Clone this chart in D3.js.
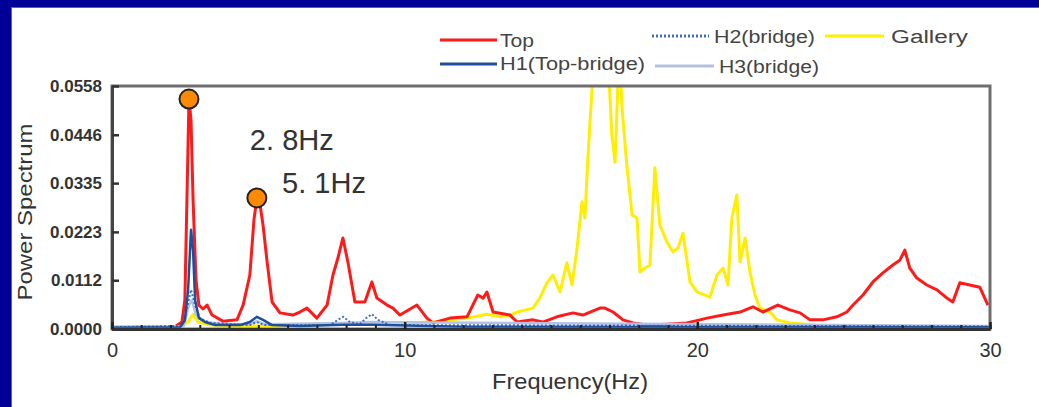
<!DOCTYPE html>
<html><head><meta charset="utf-8">
<script src="https://cdn.jsdelivr.net/npm/d3@7"></script>
<style>html,body{margin:0;padding:0;background:#fff;overflow:hidden}</style>
</head><body><svg id="c" width="1039" height="407"></svg>
<script>
// ---- data ----
const topFreq = [0,1.3,2.15,2.39,2.49,2.56,2.63,2.70,2.77,2.87,2.97,3.11,3.25,3.42,3.79,4.27,4.48,4.71,4.85,4.95,5.06,5.16,5.30,5.47,5.74,6.18,6.42,6.66,7.00,7.35,7.55,7.72,7.89,8.06,8.30,8.64,8.88,9.05,9.40,9.60,9.84,10.42,10.76,10.97,11.55,12.13,12.50,12.68,12.81,13.02,13.60,13.84,14.38,14.72,15.20,15.75,16.09,16.67,16.84,17.12,17.46,17.80,18.28,18.96,19.64,20.09,20.33,20.88,21.46,21.90,22.24,22.75,23.16,23.51,23.85,24.29,24.77,25.11,25.32,25.66,26.00,26.34,26.68,26.92,27.09,27.26,27.50,27.84,28.19,28.53,28.73,28.97,29.31,29.65,29.93];
const topVal = [0.0002,0.0002,0.0005,0.0016,0.0067,0.0296,0.0528,0.048,0.0296,0.0113,0.0055,0.0046,0.0055,0.0032,0.0018,0.0021,0.0055,0.0124,0.025,0.0301,0.0285,0.0239,0.0154,0.0062,0.0037,0.0032,0.0039,0.0048,0.0025,0.0055,0.0124,0.0163,0.0209,0.0154,0.0062,0.0062,0.0108,0.0071,0.0055,0.0048,0.0032,0.0055,0.0025,0.0014,0.0025,0.0028,0.0078,0.0071,0.0085,0.0039,0.0032,0.0016,0.0021,0.0016,0.0028,0.0037,0.0032,0.0048,0.0048,0.0039,0.0021,0.0014,0.0009,0.0011,0.0014,0.0021,0.0025,0.0032,0.0039,0.0051,0.0039,0.0055,0.0044,0.0037,0.0021,0.0021,0.0028,0.0039,0.0055,0.0078,0.0108,0.0129,0.0147,0.0158,0.0181,0.0140,0.0117,0.0101,0.0090,0.0071,0.0062,0.0106,0.0101,0.0096,0.0055];

const galFreq = [0,2.32,2.6,2.77,2.94,3.35,4.71,6.42,8.13,9.84,10.97,11.55,12.13,12.81,13.26,13.60,13.84,14.38,14.62,14.86,15.07,15.31,15.54,15.72,15.89,16.06,16.16,16.26,16.40,16.54,16.71,16.84,16.98,17.08,17.19,17.29,17.36,17.42,17.59,17.77,17.94,18.04,18.21,18.38,18.55,18.72,18.96,19.17,19.34,19.51,19.75,19.99,20.43,20.67,20.88,21.05,21.18,21.35,21.46,21.63,21.80,21.97,22.14,22.48,22.72,23.16,23.74,24.29,30];
const galVal = [0.0005,0.0005,0.0016,0.0034,0.0016,0.0009,0.0007,0.0009,0.0011,0.0014,0.0016,0.0021,0.0025,0.0034,0.0028,0.0032,0.0039,0.0048,0.0071,0.0106,0.0124,0.0085,0.0152,0.0101,0.0186,0.0292,0.0255,0.0393,0.0549,0.066,0.064,0.0595,0.058,0.0445,0.0383,0.057,0.062,0.0514,0.0377,0.0262,0.0255,0.0131,0.0140,0.0147,0.037,0.0239,0.020,0.0177,0.0186,0.022,0.0108,0.0085,0.0073,0.0124,0.0140,0.0101,0.0255,0.0308,0.0154,0.0209,0.0131,0.0078,0.0048,0.0039,0.0021,0.0014,0.0011,0.0007,0.0005];

const h1Freq = [0,2.32,2.49,2.6,2.70,2.77,2.84,2.97,3.18,3.52,4.37,4.71,4.95,5.16,5.47,6.42,7.9,8.9,12,30];
const h1Val = [0.0003,0.0004,0.002,0.009,0.0228,0.018,0.0066,0.0025,0.0016,0.0009,0.0009,0.0016,0.0028,0.0021,0.0009,0.0007,0.0010,0.0010,0.0005,0.0004];

const h2Freq = [0,2.4,2.55,2.7,2.84,3.0,3.35,4.7,4.95,5.2,7.45,7.72,7.9,8.13,8.47,8.68,8.88,9.09,9.5,30];
const h2Val = [0.0004,0.0007,0.0044,0.009,0.0055,0.0025,0.0014,0.0009,0.0016,0.0009,0.0009,0.0021,0.0028,0.0016,0.0011,0.0025,0.0034,0.0021,0.0009,0.0006];

const h3Freq = [0,2.45,2.63,2.73,2.87,3.18,3.86,4.7,4.95,5.2,7.8,8.88,30];
const h3Val = [0.0005,0.0007,0.0055,0.0066,0.0032,0.0016,0.0011,0.0011,0.0018,0.0011,0.0014,0.0016,0.0007];

const peakFreq = [2.63, 4.95];
const peakVal = [0.0528, 0.0301];
const peakLabels = ["2. 8Hz", "5. 1Hz"];
const peakLabelFreq = [4.71, 5.81];
const peakLabelVal = [0.0411, 0.0312];

const yTicks = [0, 0.0112, 0.0223, 0.0335, 0.0446, 0.0558];
const xTicks = [0, 10, 20, 30];
const xMinorTicks = d3.range(0, 31, 1);

// ---- layout ----
const svg = d3.select("#c");
const L = 112, R = 990, T = 86, B = 329;
const x = d3.scaleLinear().domain([0, 30]).range([L, R]);
const y = d3.scaleLinear().domain([0, 0.0558]).range([B, T]);

// frame
svg.append("rect").attr("x",0).attr("y",0).attr("width",1039).attr("height",407).attr("fill","#fff");
svg.append("rect").attr("x",0).attr("y",0).attr("width",1039).attr("height",7).attr("fill","#000099");
svg.append("rect").attr("x",0).attr("y",0).attr("width",11).attr("height",407).attr("fill","#000099");
svg.append("line").attr("x1",11).attr("x2",1039).attr("y1",7.5).attr("y2",7.5).attr("stroke","#5a5ad0").attr("stroke-width",1);
svg.append("line").attr("x1",11.5).attr("x2",11.5).attr("y1",7).attr("y2",407).attr("stroke","#5a5ad0").attr("stroke-width",1);

// clip
svg.append("clipPath").attr("id","clip").append("rect")
  .attr("x",L).attr("y",T).attr("width",R-L).attr("height",B-T);

const line = d3.line().x(d=>x(d[0])).y(d=>y(d[1]));
const g = svg.append("g").attr("clip-path","url(#clip)");

const series = [
  {f: galFreq, v: galVal, color:"#ffee00", w:3, dash:null},
  {f: topFreq, v: topVal, color:"#ff1a1a", w:3, dash:null},
  {f: h3Freq, v: h3Val, color:"#b3c2e3", w:2.5, dash:null},
  {f: h2Freq, v: h2Val, color:"#3d6fc6", w:2, dash:"2,2"},
  {f: h1Freq, v: h1Val, color:"#1d4f9e", w:2.5, dash:null}
];
series.forEach(s=>{
  g.append("path").datum(d3.zip(s.f, s.v))
   .attr("d", line).attr("fill","none").attr("stroke", s.color)
   .attr("stroke-width", s.w).attr("stroke-linejoin","round")
   .attr("stroke-dasharray", s.dash);
});

// plot border
svg.append("rect").attr("x",L).attr("y",T).attr("width",R-L).attr("height",B-T)
  .attr("fill","none").attr("stroke","#6e6e6e").attr("stroke-width",3);

// axes
const yAxis = d3.axisLeft(y).tickValues(yTicks).tickFormat(d3.format(".4f")).tickSizeInner(-7).tickSizeOuter(0).tickPadding(10);
const ya = svg.append("g").attr("transform",`translate(${L},0)`).call(yAxis);
ya.select(".domain").attr("stroke","#444").attr("stroke-width",3);
ya.selectAll(".tick line").attr("stroke","#333").attr("stroke-width",2.5);
ya.selectAll(".tick text").attr("font-family","Liberation Sans, Arial, sans-serif").attr("font-size",17).attr("fill","#333").attr("font-weight","bold");

const xMinor = d3.axisBottom(x).tickValues(xMinorTicks).tickSizeInner(-4).tickSizeOuter(0).tickFormat("");
const xm = svg.append("g").attr("transform",`translate(0,${B})`).call(xMinor);
xm.select(".domain").remove();
xm.selectAll(".tick line").attr("stroke","#222").attr("stroke-width",2);

const xAxis = d3.axisBottom(x).tickValues(xTicks).tickSizeInner(-7).tickSizeOuter(0).tickPadding(14);
const xa = svg.append("g").attr("transform",`translate(0,${B})`).call(xAxis);
xa.select(".domain").attr("stroke","#333").attr("stroke-width",3);
xa.selectAll(".tick line").attr("stroke","#222").attr("stroke-width",2.5);
xa.selectAll(".tick text").attr("font-family","Liberation Sans, Arial, sans-serif").attr("font-size",20).attr("fill","#333");

// axis titles
svg.append("text").attr("transform","translate(32,212) rotate(-90)").attr("text-anchor","middle")
  .attr("font-family","Liberation Sans, Arial, sans-serif").attr("font-size",21).attr("fill","#333")
  .attr("textLength",177).attr("lengthAdjust","spacingAndGlyphs").text("Power Spectrum");
svg.append("text").attr("x",570).attr("y",389).attr("text-anchor","middle")
  .attr("font-family","Liberation Sans, Arial, sans-serif").attr("font-size",22).attr("fill","#333")
  .attr("textLength",156).attr("lengthAdjust","spacingAndGlyphs").text("Frequency(Hz)");

// peak markers
svg.selectAll("circle.pk").data(d3.zip(peakFreq, peakVal)).join("circle")
  .attr("cx",d=>x(d[0])).attr("cy",d=>y(d[1])).attr("r",9.5)
  .attr("fill","#ff8a00").attr("stroke","#222").attr("stroke-width",2);
svg.selectAll("text.pl").data(d3.zip(peakLabelFreq, peakLabelVal, peakLabels)).join("text")
  .attr("x",d=>x(d[0])).attr("y",d=>y(d[1]))
  .attr("font-family","Liberation Sans Narrow, Arial Narrow, Liberation Sans, sans-serif")
  .attr("font-size",30).attr("fill","#333")
  .attr("textLength",84).attr("lengthAdjust","spacingAndGlyphs").text(d=>d[2]);

// legend
const legendNames = ["Top","H1(Top-bridge)","H2(bridge)","H3(bridge)","Gallery"];
const legendColors = ["#ff1a1a","#1d4f9e","#3d6fc6","#b3c2e3","#ffee00"];
const legendDash = [null,null,"2,2",null,null];
const legendPos = [[440,497,40,500,47,34],[440,497,64,500,70,145],[652,709,36,714,43,101],[655,714,66,719,73,100],[825,884,36,891,43,77]];
legendNames.forEach((n,i)=>{
  const p = legendPos[i];
  svg.append("line").attr("x1",p[0]).attr("x2",p[1]).attr("y1",p[2]).attr("y2",p[2])
    .attr("stroke",legendColors[i]).attr("stroke-width",3).attr("stroke-dasharray",legendDash[i]);
  svg.append("text").attr("x",p[3]).attr("y",p[4])
    .attr("font-family","Liberation Sans, Arial, sans-serif").attr("font-size",18).attr("fill","#444")
    .attr("textLength",p[5]).attr("lengthAdjust","spacingAndGlyphs").text(n);
});
</script>
</body></html>
